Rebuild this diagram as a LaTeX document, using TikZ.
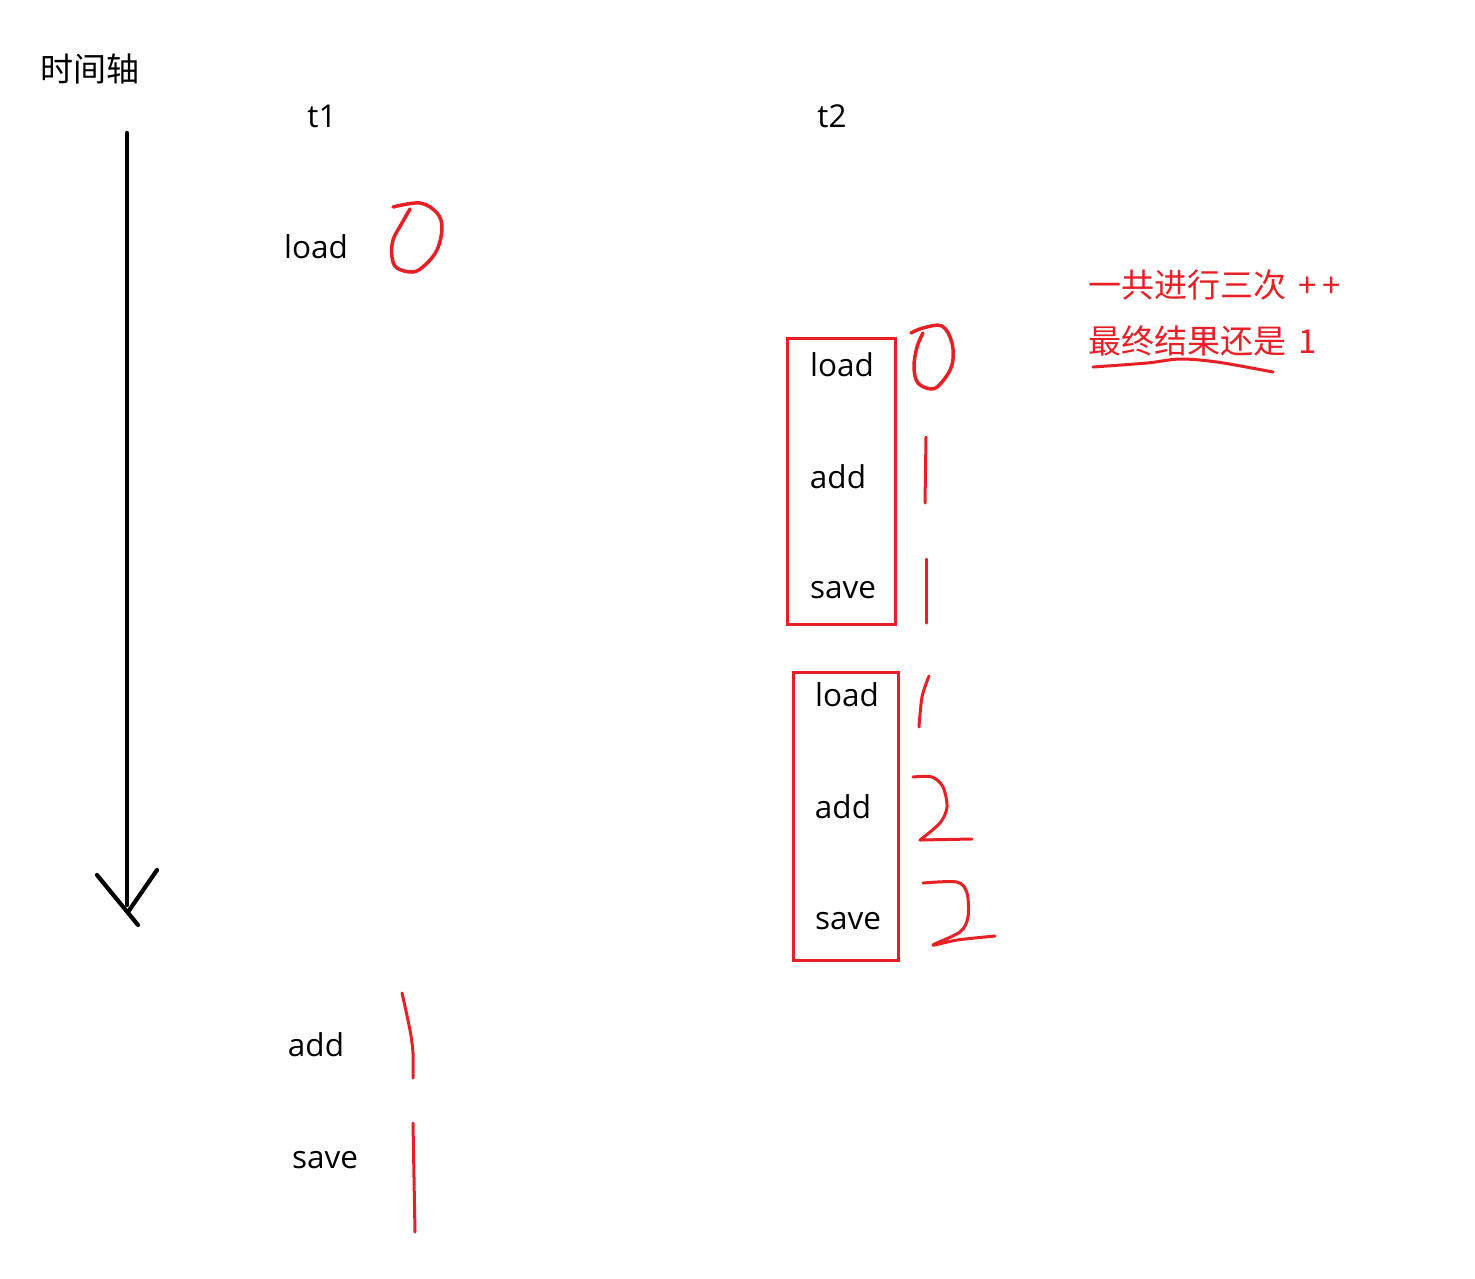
\documentclass[tikz,border=0pt]{standalone}
\usepackage{fontspec}
\setmainfont{Open Sans}
\newfontfamily\cjk{Noto Sans CJK SC}
\definecolor{pred}{RGB}{232,32,38}
\begin{document}
\begin{tikzpicture}[x=1pt,y=-1pt,
  lat/.style={font=\fontsize{31.5}{36}\selectfont, inner sep=0pt, anchor=base},
  cjkt/.style={font=\cjk\fontsize{33}{38}\selectfont, inner sep=0pt},
  redbox/.style={draw=pred, line width=3pt},
  hand/.style={draw=pred, line width=3.5pt, line cap=round, line join=round},
  axis/.style={draw=black, line width=4.2pt, line cap=round}]
\useasboundingbox[fill=white] (0,0) rectangle (1475,1278);

% time axis
\node[cjkt] (axlabel) at (90,69) {时间轴};
\coordinate (axtop) at (127,133);
\coordinate (axbot) at (127,905);
\coordinate (hl1) at (97,875);
\coordinate (hl2) at (138,925);
\coordinate (hr1) at (157,870);
\coordinate (hr2) at (128,912);
\draw[axis] (axtop) -- (axbot);
\draw[axis] (hl1) -- (hl2);
\draw[axis] (hr1) -- (hr2);

% column headers
\node[lat] (t1) at (322,127) {t1};
\node[lat] (t2) at (832,127) {t2};

% thread 1
\node[lat] (t1load) at (316,258) {load};
\node[lat] (t1add) at (316,1056) {add};
\node[lat] (t1save) at (325,1168) {save};

% thread 2 first box
\node[lat] (b1load) at (842,376) {load};
\node[lat] (b1add) at (838,488) {add};
\node[lat] (b1save) at (843,598) {save};
\coordinate (box1a) at (787,338);
\coordinate (box1b) at (895,624);
\draw[redbox] (box1a) rectangle (box1b);

% thread 2 second box
\node[lat] (b2load) at (847,706) {load};
\node[lat] (b2add) at (843,818) {add};
\node[lat] (b2save) at (848,929) {save};
\coordinate (box2a) at (793,672);
\coordinate (box2b) at (898,960);
\draw[redbox] (box2a) rectangle (box2b);

% handwritten values
\draw[hand] plot[smooth, tension=0.6] coordinates {(393,207) (420,203) (437,213) (442,228) (437,250) (425,265) (413,272) (397,268) (392,257) (393,240) (402,223) (410,209)};
\draw[hand] plot[smooth, tension=0.6] coordinates {(911,333) (923,328) (942,326) (952,343) (952,365) (942,382) (932,389) (918,383) (914,367) (917,347) (923,333)};
\draw[hand, line width=3pt] (926,437) -- (925,503);
\draw[hand, line width=3pt] (926,559) -- (926,623);
\draw[hand, line width=3pt] plot[smooth] coordinates {(929,676) (922,697) (919,727)};
\draw[hand, line width=3pt] plot[smooth, tension=0.5] coordinates {(913,777) (932,777) (943,787) (947,807) (940,823) (920,840)} -- (972,839);
\draw[hand, line width=3pt] plot[smooth, tension=0.5] coordinates {(923,883) (957,882) (967,893) (968,917) (960,932) (933,945) (957,940) (995,936)};
\draw[hand, line width=3pt] plot[smooth] coordinates {(402,993) (410,1030) (413,1053) (413,1078)};
\draw[hand, line width=3pt] (413,1123) -- (415,1232);

% annotation
\node[cjkt, text=pred, anchor=west] (note1) at (1088,285) {一共进行三次\hspace{12pt}+\hspace{6pt}+};
\node[cjkt, text=pred, anchor=west] (note2) at (1088,341) {最终结果还是\hspace{12pt}1};
\draw[hand, line width=3pt] plot[smooth, tension=0.5] coordinates {(1093,367) (1147,363) (1180,359) (1217,362) (1273,372)};
\end{tikzpicture}
\end{document}
